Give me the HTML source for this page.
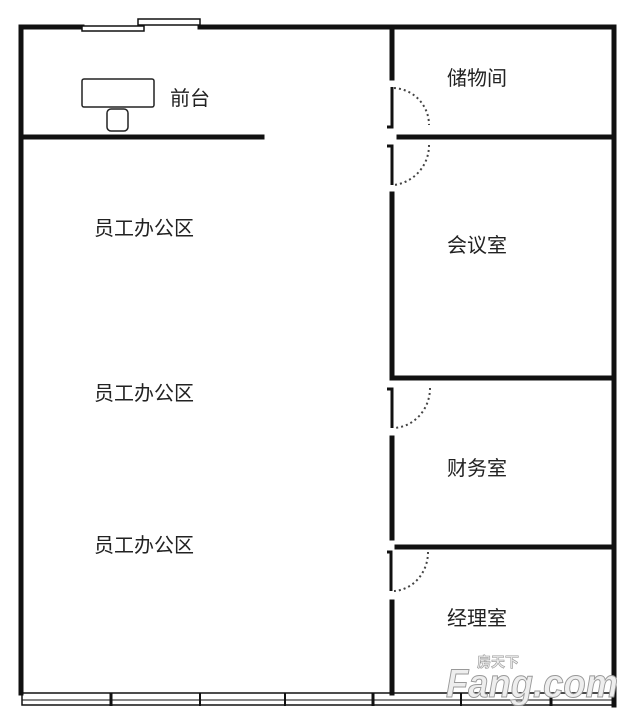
<!DOCTYPE html>
<html><head><meta charset="utf-8"><style>
html,body{margin:0;padding:0;background:#fff;}
svg{display:block;}
text{font-family:"Liberation Sans","Noto Sans CJK SC",sans-serif;font-size:20px;fill:#222;}
</style></head><body>
<svg width="638" height="720" viewBox="0 0 638 720" xmlns="http://www.w3.org/2000/svg">
<rect width="638" height="720" fill="#fff"/>
<g stroke="#111" stroke-width="5" fill="none" stroke-linecap="square">
<line x1="21" y1="27" x2="21" y2="693"/>
<line x1="21" y1="27" x2="82" y2="27"/>
<line x1="200" y1="27" x2="614" y2="27"/>
<line x1="614" y1="27" x2="614" y2="705"/>
<line x1="392" y1="27" x2="392" y2="78"/>
<line x1="392" y1="194" x2="392" y2="378"/>
<line x1="392" y1="438" x2="392" y2="538"/>
<line x1="392" y1="602" x2="392" y2="693"/>
<line x1="23" y1="137" x2="262" y2="137"/>
<line x1="399" y1="137" x2="614" y2="137"/>
<line x1="392" y1="378" x2="614" y2="378"/>
<line x1="397" y1="547" x2="614" y2="547"/>
</g>
<g stroke="#111" stroke-width="3" fill="none">
<polyline points="392,87 392,127 387,127"/>
<polyline points="387,146 392,146 392,185"/>
<polyline points="387,389 392,389 392,428"/>
<polyline points="387,552 391,552 391,591"/>
</g>
<g stroke="#111" stroke-width="1.5" fill="#fff">
<rect x="82" y="26" width="62" height="5"/>
<rect x="138" y="19" width="62" height="6"/>
</g>
<g stroke="#444" stroke-width="2" fill="none" stroke-dasharray="2 3">
<path d="M394,88 A37,37 0 0 1 429,125"/>
<path d="M429,145 A40,40 0 0 1 394,185"/>
<path d="M430,388 A38,40 0 0 1 394,428"/>
<path d="M428,552 A36,39 0 0 1 394,591"/>
</g>
<g stroke="#222" stroke-width="1.5" fill="#fff">
<rect x="82" y="79" width="72" height="28" rx="2"/>
<rect x="107" y="109" width="21" height="22" rx="4"/>
</g>
<g stroke="#111" fill="none">
<rect x="22" y="693" width="592" height="12" stroke-width="1.5"/>
<line x1="22" y1="700" x2="614" y2="700" stroke-width="1"/>
<line x1="111" y1="693" x2="111" y2="706" stroke-width="3"/>
<line x1="200" y1="693" x2="200" y2="706" stroke-width="2"/>
<line x1="285" y1="693" x2="285" y2="706" stroke-width="2"/>
<line x1="373" y1="693" x2="373" y2="706" stroke-width="3"/>
<line x1="461" y1="693" x2="461" y2="706" stroke-width="2"/>
<line x1="551" y1="693" x2="551" y2="706" stroke-width="3"/>
</g>
<text x="170" y="105">前台</text>
<text x="447" y="85">储物间</text>
<text x="447" y="252">会议室</text>
<text x="447" y="475">财务室</text>
<text x="447" y="625">经理室</text>
<text x="94" y="235">员工办公区</text>
<text x="94" y="400">员工办公区</text>
<text x="94" y="552">员工办公区</text>
<text x="446" y="697" textLength="172" lengthAdjust="spacingAndGlyphs" style="font-size:40px;font-weight:bold;font-style:italic;fill:#eee;stroke:#999;stroke-width:1">Fang.com</text>
<text x="477" y="667" style="font-size:14px;font-weight:bold;fill:#eee;stroke:#999;stroke-width:0.6">房天下</text>
</svg>
</body></html>
